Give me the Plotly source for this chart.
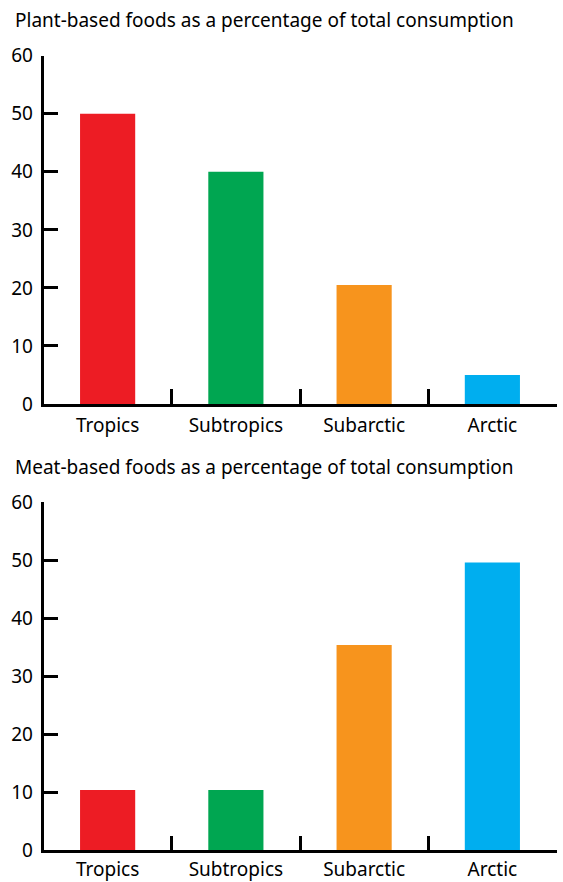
import plotly.graph_objects as go

categories = ["Tropics", "Subtropics", "Subarctic", "Arctic"]
plant_values = [50, 40, 20.5, 5.0]
meat_values = [10.4, 10.4, 35.4, 49.6]
colors = ["#ED1C24", "#00A651", "#F7941D", "#00AEEF"]
y_ticks = [0, 10, 20, 30, 40, 50, 60]
titles = ["Plant-based foods as a percentage of total consumption",
          "Meat-based foods as a percentage of total consumption"]

W, H = 563, 882
FONT = "Noto Sans"
FS = 19

fig = go.Figure()
fig.add_trace(go.Bar(x=categories, y=plant_values, marker=dict(color=colors, line=dict(width=0)),
                     xaxis="x", yaxis="y", showlegend=False))
fig.add_trace(go.Bar(x=categories, y=meat_values, marker=dict(color=colors, line=dict(width=0)),
                     xaxis="x2", yaxis="y2", showlegend=False))

xd = [43.5 / W, 556.5 / W]
top_dom = [1 - 404 / H, 1 - 55.7 / H]
bot_dom = [1 - 850.3 / H, 1 - 502.3 / H]

xaxis_common = dict(domain=xd, showline=True, linecolor="black", linewidth=2.5,
                    ticks="inside", tickson="boundaries", ticklen=15, tickwidth=2.5,
                    tickcolor="black", showgrid=False, zeroline=False, automargin=False,
                    tickfont=dict(family=FONT, size=FS, color="black"), fixedrange=True)
yaxis_common = dict(range=[0, 60], tickvals=y_ticks, showline=True, linecolor="black",
                    linewidth=2.5, ticks="inside", ticklen=15, tickwidth=2.5, tickcolor="black",
                    showgrid=False, zeroline=False, automargin=False, ticklabelstandoff=4,
                    tickfont=dict(family=FONT, size=FS, color="black"), fixedrange=True)

fig.update_layout(
    width=W, height=H,
    margin=dict(l=0, r=0, t=0, b=0, autoexpand=False),
    plot_bgcolor="white", paper_bgcolor="white",
    bargap=0.57,
    xaxis=dict(**xaxis_common, anchor="y", ticklabelstandoff=2),
    yaxis=dict(**yaxis_common, domain=top_dom, anchor="x"),
    xaxis2=dict(**xaxis_common, anchor="y2", ticklabelstandoff=0),
    yaxis2=dict(**yaxis_common, domain=bot_dom, anchor="x2"),
    annotations=[
        dict(text=titles[0], x=14 / W, y=1 - 20 / H, xref="paper", yref="paper",
             xanchor="left", yanchor="middle", showarrow=False, xshift=-1,
             font=dict(family=FONT, size=FS, color="black")),
        dict(text=titles[1], x=14 / W, y=1 - 467 / H, xref="paper", yref="paper",
             xanchor="left", yanchor="middle", showarrow=False, xshift=-1,
             font=dict(family=FONT, size=FS, color="black")),
    ],
)

fig.write_html("out.html", config={"displayModeBar": False},
               post_script="document.body.style.margin='0px';document.body.style.overflow='hidden';")
